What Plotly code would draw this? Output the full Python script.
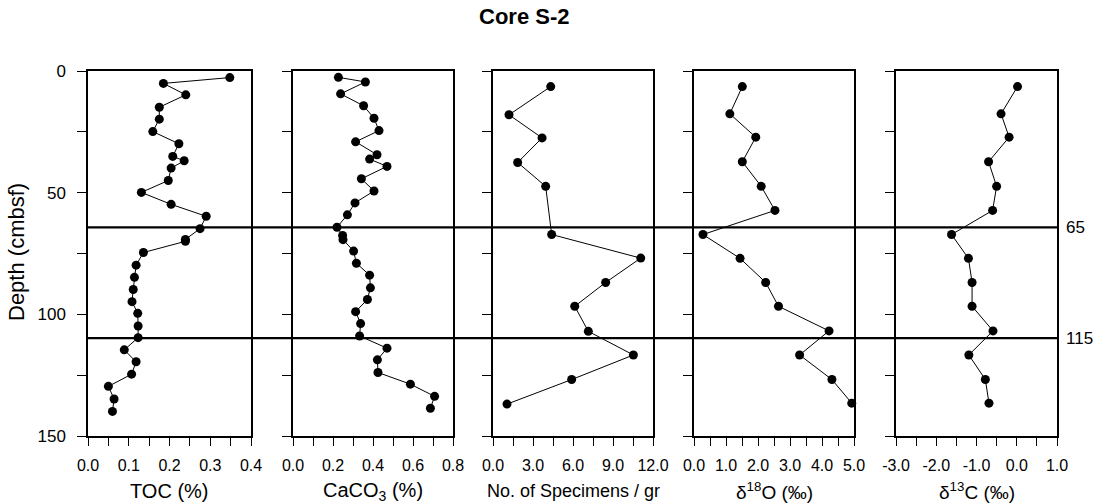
import plotly.graph_objects as go

# ---------------- data ----------------
toc_depth = [2.7, 5.1, 9.8, 14.9, 19.8, 24.9, 29.9, 35.1, 36.9, 39.9, 45.0, 49.9, 54.8, 59.7, 64.8,
             69.2, 70.0, 74.6, 79.8, 84.8, 89.8, 94.8, 99.6, 104.8, 109.6, 114.6, 119.5, 124.6,
             129.6, 134.8, 139.9]
toc = [0.348, 0.185, 0.240, 0.175, 0.175, 0.159, 0.223, 0.208, 0.236, 0.204, 0.197, 0.131, 0.204,
       0.290, 0.275, 0.239, 0.239, 0.136, 0.118, 0.114, 0.111, 0.108, 0.122, 0.123, 0.123, 0.089,
       0.118, 0.107, 0.050, 0.064, 0.060]

caco3_depth = [2.6, 4.5, 9.4, 14.3, 19.4, 24.5, 29.1, 34.4, 36.2, 39.2, 44.3, 49.3, 54.2, 59.1,
               64.2, 67.6, 69.3, 74.0, 79.0, 83.9, 89.1, 93.9, 98.9, 103.8, 108.9, 113.9, 118.7,
               123.9, 128.7, 133.7, 138.6]
caco3 = [0.227, 0.362, 0.238, 0.353, 0.405, 0.430, 0.313, 0.420, 0.383, 0.470, 0.342, 0.405, 0.310,
         0.272, 0.220, 0.248, 0.250, 0.303, 0.317, 0.383, 0.387, 0.372, 0.313, 0.338, 0.333, 0.470,
         0.422, 0.425, 0.587, 0.708, 0.687]

spec_depth = [6.4, 18.0, 27.5, 37.6, 47.4, 67.2, 76.9, 86.9, 96.7, 107.0, 116.7, 126.8, 136.9]
specimens = [4.33, 1.20, 3.68, 1.85, 3.95, 4.40, 11.08, 8.45, 6.13, 7.15, 10.53, 5.90, 1.05]

iso_depth = [6.4, 17.6, 27.2, 37.3, 47.4, 57.3, 67.2, 77.0, 86.9, 96.7, 106.8, 116.7, 126.8, 136.5]
d18o = [1.51, 1.12, 1.93, 1.51, 2.10, 2.53, 0.28, 1.44, 2.24, 2.64, 4.22, 3.30, 4.31, 4.93]
d13c = [0.02, -0.39, -0.19, -0.70, -0.50, -0.60, -1.62, -1.20, -1.11, -1.11, -0.59, -1.19, -0.78, -0.69]

boundary_depths = [64.3, 109.8]
boundary_labels = ["65", "115"]

depth_ticks = [0, 50, 100, 150]
depth_minor = [0, 25, 50, 75, 100, 125, 150]

toc_ticks = ["0.0", "0.1", "0.2", "0.3", "0.4"]
caco3_ticks = ["0.0", "0.2", "0.4", "0.6", "0.8"]
spec_ticks = ["0.0", "3.0", "6.0", "9.0", "12.0"]
d18o_ticks = ["0.0", "1.0", "2.0", "3.0", "4.0", "5.0"]
d13c_ticks = ["-3.0", "-2.0", "-1.0", "0.0", "1.0"]

panels = [
    dict(x=toc, y=toc_depth, rng=[0, 0.4], ticks=toc_ticks, title="TOC (%)", tsize=20),
    dict(x=caco3, y=caco3_depth, rng=[0, 0.8], ticks=caco3_ticks, title="CaCO<sub>3</sub> (%)", tsize=20),
    dict(x=specimens, y=spec_depth, rng=[0, 12], ticks=spec_ticks, title="No. of Specimens / gr", tsize=18),
    dict(x=d18o, y=iso_depth, rng=[0, 5], ticks=d18o_ticks, title="δ<sup>18</sup>O (‰)", tsize=19),
    dict(x=d13c, y=iso_depth, rng=[-3, 1], ticks=d13c_ticks, title="δ<sup>13</sup>C (‰)", tsize=19),
]

# ---------------- layout geometry (pixels) ----------------
W, H = 1101, 503
px_x = [(88, 251), (293, 453), (493, 653), (694, 854), (896, 1057)]
top_px, bot_px = 71, 436
ydom = [1 - bot_px / H, 1 - top_px / H]

fig = go.Figure()
layout = dict(
    width=W, height=H, margin=dict(l=0, r=0, t=0, b=0, autoexpand=False),
    paper_bgcolor="white", plot_bgcolor="white", showlegend=False,
    font=dict(family="Liberation Sans, Arial, sans-serif", color="black"),
)
annotations = []
shapes = []

for i, p in enumerate(panels):
    n = i + 1
    xa = "x" if n == 1 else f"x{n}"
    ya = "y" if n == 1 else f"y{n}"
    fig.add_trace(go.Scatter(
        x=p["x"], y=p["y"], mode="lines+markers", xaxis=xa, yaxis=ya,
        line=dict(color="black", width=1),
        marker=dict(color="black", size=9),
        cliponaxis=False,
    ))
    lo, hi = p["rng"]
    labels = p["ticks"]
    nmaj = len(labels) - 1
    major = [lo + k * (hi - lo) / nmaj for k in range(nmaj + 1)]
    minor = [lo + k * (hi - lo) / (2 * nmaj) for k in range(2 * nmaj + 1)]
    x0, x1 = px_x[i]
    layout["xaxis" if n == 1 else f"xaxis{n}"] = dict(
        domain=[x0 / W, x1 / W], range=[lo, hi], anchor=ya, automargin=False,
        showgrid=False, zeroline=False, showline=True, linecolor="black", linewidth=1.5,
        mirror=True, ticks="outside", ticklen=8, tickwidth=1.2, tickcolor="black",
        tickmode="array", tickvals=major, ticktext=labels, ticklabelstandoff=6,
        minor=dict(tickmode="array", tickvals=minor, ticks="outside", ticklen=8,
                   tickwidth=1.2, tickcolor="black", showgrid=False),
        tickfont=dict(size=16),
    )
    layout["yaxis" if n == 1 else f"yaxis{n}"] = dict(
        domain=ydom, range=[150, 0], anchor=xa, automargin=False,
        showgrid=False, zeroline=False, showline=True, linecolor="black", linewidth=1.5,
        mirror=True, ticks="outside", ticklen=9, tickwidth=1.2, tickcolor="black",
        tickmode="array", tickvals=depth_ticks, ticktext=[str(v) for v in depth_ticks],
        minor=dict(tickmode="array", tickvals=depth_minor, ticks="outside", ticklen=9,
                   tickwidth=1.2, tickcolor="black", showgrid=False),
        showticklabels=(n == 1), ticklabelstandoff=8,
        tickfont=dict(size=17),
    )
    annotations.append(dict(
        text=p["title"], x=(x0 + x1) / 2 / W, y=1 - 491 / H, xref="paper", yref="paper",
        showarrow=False, xanchor="center", yanchor="middle",
        font=dict(size=p["tsize"]),
    ))

for d, lab in zip(boundary_depths, boundary_labels):
    shapes.append(dict(type="line", xref="paper", yref="y", x0=px_x[0][0] / W, x1=px_x[-1][1] / W,
                       y0=d, y1=d, line=dict(color="black", width=2.2)))
    annotations.append(dict(text=lab, xref="paper", yref="y", x=1064 / W, y=d, showarrow=False,
                            xanchor="left", yanchor="middle", font=dict(size=17)))

annotations.append(dict(text="<b>Core S-2</b>", xref="paper", yref="paper", x=524 / W, y=1 - 17 / H,
                        showarrow=False, xanchor="center", yanchor="middle", font=dict(size=22)))
annotations.append(dict(text="Depth (cmbsf)", xref="paper", yref="paper", x=17 / W,
                        y=1 - 252 / H, showarrow=False, textangle=-90,
                        xanchor="center", yanchor="middle", font=dict(size=22)))

layout["annotations"] = annotations
layout["shapes"] = shapes
fig.update_layout(**layout)
fig.write_html("out.html")
